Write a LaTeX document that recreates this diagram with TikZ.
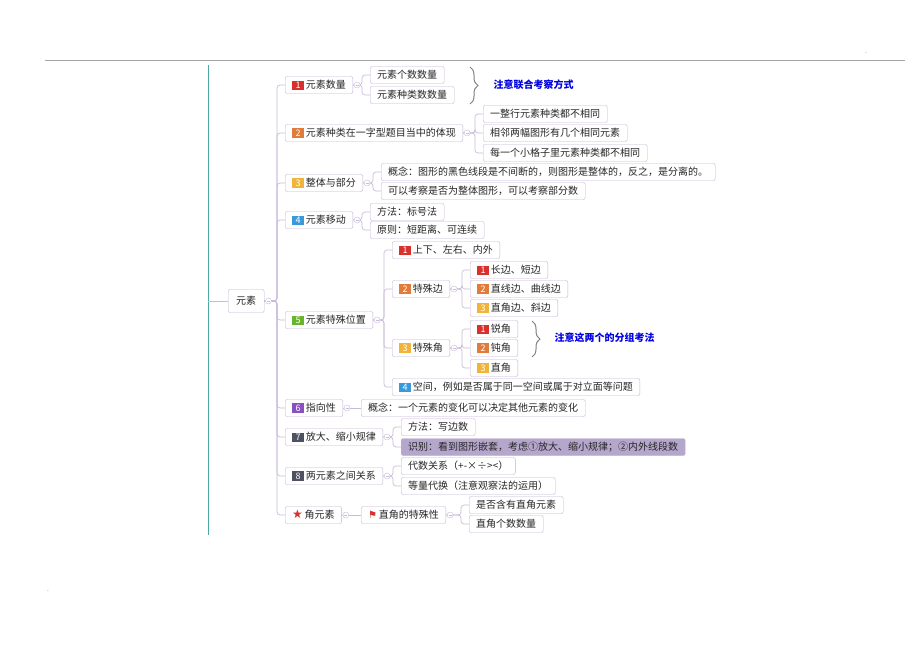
\documentclass[tikz,border=0pt]{standalone}
\usepackage{fontspec}
\setmainfont{Noto Sans CJK SC}
\newfontfamily\dvs{DejaVu Sans}
\usetikzlibrary{decorations.pathreplacing}
\definecolor{bd}{HTML}{C4B0D6}
\definecolor{ln}{HTML}{C9BCDA}
\definecolor{cR}{HTML}{D9302C}
\definecolor{cO}{HTML}{E07B39}
\definecolor{cY}{HTML}{F0B43C}
\definecolor{cB}{HTML}{3A9AD9}
\definecolor{cG}{HTML}{6AB42D}
\definecolor{cP}{HTML}{8A4FC0}
\definecolor{cK}{HTML}{4D5160}
\definecolor{hl}{HTML}{B5A6CC}
\newcommand{\bdg}[2]{{\setlength\fboxsep{1.5pt}\colorbox{#1}{\textcolor{white}{\makebox[9pt]{\fontsize{9}{9}\selectfont #2}}}}\,}
\begin{document}
\begin{tikzpicture}[x=1pt,y=-1pt,
 box/.style={draw=bd,rounded corners=2pt,fill=white,font=\fontsize{10}{10}\selectfont,inner xsep=7pt,inner ysep=0pt,minimum height=17pt,anchor=west,text=black!85},
 conn/.style={draw=ln,line width=0.7pt,rounded corners=3pt},
 tog/.style={draw=ln,circle,inner sep=0pt,minimum size=6pt,fill=white},
 note/.style={text=blue!90!black,font=\bfseries\fontsize{10}{11}\selectfont,anchor=west}]
\useasboundingbox (0,0) rectangle (920,651);
\fill[white] (0,0) rectangle (920,651);
\draw[gray!70,line width=0.6pt] (45,60) -- (905,60);
\node[font=\tiny] at (866,53) {.};
\node[font=\tiny] at (48,591) {.};
\draw[teal!70,line width=0.8pt] (208,65) -- (208,535);
% root
\node[box,minimum height=23pt,inner xsep=8pt] (root) at (228,301) {元素};
\draw[conn] (208,301) -- (root.west);
% level 1
\node[box] (a1) at (285,85) {\bdg{cR}{1}元素数量};
\node[box] (a2) at (285,133) {\bdg{cO}{2}元素种类在一字型题目当中的体现};
\node[box] (a3) at (285,183) {\bdg{cY}{3}整体与部分};
\node[box] (a4) at (285,220) {\bdg{cB}{4}元素移动};
\node[box] (a5) at (285,320) {\bdg{cG}{5}元素特殊位置};
\node[box] (a6) at (285,408) {\bdg{cP}{6}指向性};
\node[box] (a7) at (285,437) {\bdg{cK}{7}放大、缩小规律};
\node[box] (a8) at (285,476) {\bdg{cK}{8}两元素之间关系};
\node[box] (a9) at (285,515) {\textcolor{cR}{\dvs\large ★}\,角元素};
\foreach \c in {a1,a2,a3,a4,a5,a6,a7,a8,a9}
 \draw[conn] (root.east) -| ([xshift=-8pt]\c.west) -- (\c.west);
% level 2
\node[box] (b11) at (370,75) {元素个数数量};
\node[box] (b12) at (370,95) {元素种类数数量};
\node[box] (b21) at (483,114) {一整行元素种类都不相同};
\node[box] (b22) at (483,133) {相邻两幅图形有几个相同元素};
\node[box] (b23) at (483,153) {每一个小格子里元素种类都不相同};
\node[box] (b31) at (381,172) {概念：图形的黑色线段是不间断的，则图形是整体的，反之，是分离的。};
\node[box] (b32) at (381,191) {可以考察是否为整体图形，可以考察部分数};
\node[box] (b41) at (370,212) {方法：标号法};
\node[box] (b42) at (370,230) {原则：短距离、可连续};
\node[box] (b51) at (392,250) {\bdg{cR}{1}上下、左右、内外};
\node[box] (b52) at (392,289) {\bdg{cO}{2}特殊边};
\node[box] (b53) at (392,348) {\bdg{cY}{3}特殊角};
\node[box] (b54) at (392,387) {\bdg{cB}{4}空间，例如是否属于同一空间或属于对立面等问题};
\node[box] (b61) at (361,408) {概念：一个元素的变化可以决定其他元素的变化};
\node[box] (b71) at (401,427) {方法：写边数};
\node[box,fill=hl] (b72) at (401,447) {识别：看到图形嵌套，考虑①放大、缩小规律；②内外线段数};
\node[box] (b81) at (401,466) {代数关系（+-×÷><）};
\node[box] (b82) at (401,486) {等量代换（注意观察法的运用）};
\node[box] (b91) at (361,515) {\textcolor{cR}{\dvs ⚑}\,直角的特殊性};
% level 3
\node[box] (c1) at (470,270) {\bdg{cR}{1}长边、短边};
\node[box] (c2) at (470,289) {\bdg{cO}{2}直线边、曲线边};
\node[box] (c3) at (470,308) {\bdg{cY}{3}直角边、斜边};
\node[box] (d1) at (470,329) {\bdg{cR}{1}锐角};
\node[box] (d2) at (470,348) {\bdg{cO}{2}钝角};
\node[box] (d3) at (470,368) {\bdg{cY}{3}直角};
\node[box] (e1) at (469,505) {是否含有直角元素};
\node[box] (e2) at (469,524) {直角个数数量};
% connectors
\foreach \p/\cs in {a1/{b11,b12},a2/{b21,b22,b23},a3/{b31,b32},a4/{b41,b42},a5/{b51,b52,b53,b54},a7/{b71,b72},a8/{b81,b82},b52/{c1,c2,c3},b53/{d1,d2,d3},b91/{e1,e2}}{
 \foreach \c in \cs
  \draw[conn] (\p.east) -| ([xshift=-8pt]\c.west) -- (\c.west);
}
\draw[conn] (a6.east) -- (b61.west);
\draw[conn] (a9.east) -- (b91.west);
\foreach \p in {root,a1,a2,a3,a4,a5,a6,a7,a8,a9,b52,b53,b91}
 \node[tog] at ([xshift=4pt]\p.east) {\tikz\draw[ln,line width=0.5pt](0,0)--(3pt,0);};
% notes
\draw[gray,line width=1pt,decorate,decoration={brace,amplitude=8pt}] (470,67) -- (470,104);
\node[note] at (490,85) {注意联合考察方式};
\draw[gray,line width=1pt,decorate,decoration={brace,amplitude=8pt}] (532,321) -- (532,357);
\node[note] at (551,338) {注意这两个的分组考法};
\end{tikzpicture}
\end{document}
